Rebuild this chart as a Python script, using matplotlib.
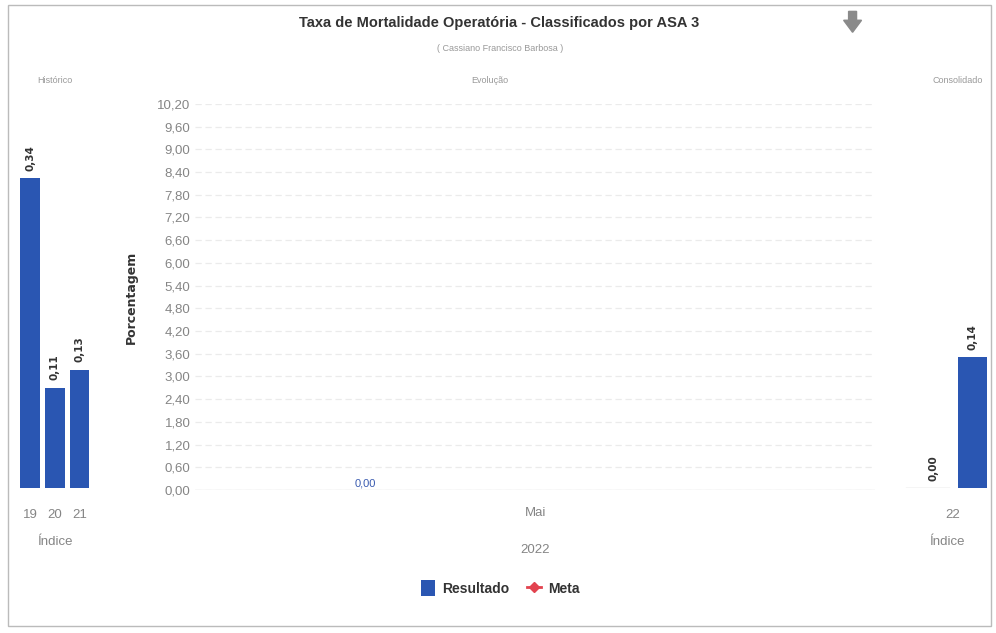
import matplotlib
matplotlib.use('Agg')
import matplotlib.pyplot as plt
from matplotlib.patches import Patch, Rectangle, Polygon
from matplotlib.lines import Line2D

# dados
historico_anos = ['19', '20', '21']
historico_valores = [0.34, 0.11, 0.13]

evolucao_meses = ['Mai']
evolucao_resultado = [0.00]
evolucao_ticks = [0.0, 0.6, 1.2, 1.8, 2.4, 3.0, 3.6, 4.2, 4.8, 5.4, 6.0, 6.6, 7.2, 7.8, 8.4, 9.0, 9.6, 10.2]

consolidado_ano = ['22']
consolidado_valores = [0.00, 0.14]

AZUL = '#2a56b2'
VERMELHO = '#e2434f'
CINZA = '#858585'
FONTE = ['Liberation Sans Narrow', 'Liberation Sans', 'DejaVu Sans']

plt.rcParams['font.family'] = FONTE


def fmt(v):
    return f"{v:.2f}".replace('.', ',')


def limpar(ax):
    for s in ax.spines.values():
        s.set_visible(False)
    ax.tick_params(length=0, colors=CINZA, labelsize=9.5)


fig = plt.figure(figsize=(9.96, 6.33), dpi=100)

# moldura
fig.add_artist(Rectangle((0.008, 0.011), 0.987, 0.981, transform=fig.transFigure,
                         fill=False, edgecolor='#bbbbbb', lw=1))

fig.text(0.501, 0.963, 'Taxa de Mortalidade Operatória - Classificados por ASA 3',
         ha='center', va='center', fontsize=10.5, fontweight='bold', color='#333333')
fig.text(0.502, 0.924, '( Cassiano Francisco Barbosa )', ha='center', va='center',
         fontsize=6.5, color='#999999')

# icone seta
cx, cy = 0.856, 0.966
seta = [(cx - 0.004, cy + 0.016), (cx + 0.004, cy + 0.016), (cx + 0.004, cy + 0.002),
        (cx + 0.009, cy + 0.002), (cx, cy - 0.017), (cx - 0.009, cy + 0.002),
        (cx - 0.004, cy + 0.002)]
fig.add_artist(Polygon(seta, closed=True, transform=fig.transFigure, color='#8a8a8a'))

# historico
ax1 = fig.add_axes([0.0155, 0.229, 0.079, 0.597])
ax1.bar(range(len(historico_anos)), historico_valores, width=0.8, color=AZUL)
for i, v in enumerate(historico_valores):
    ax1.text(i, v + 0.008, fmt(v), rotation=90, ha='center', va='bottom',
             fontsize=7.5, fontweight='bold', color='#333333', family='DejaVu Sans')
ax1.set_xlim(-0.6, 2.6)
ax1.set_ylim(0, 0.4146)
ax1.set_xticks(range(len(historico_anos)))
ax1.set_xticklabels(historico_anos)
ax1.set_yticks([])
ax1.set_xlabel('Índice', color=CINZA, fontsize=9.5, labelpad=11)
limpar(ax1)
ax1.tick_params(axis='x', pad=15)
fig.text(0.055, 0.873, 'Histórico', ha='center', va='center', fontsize=6.5, color='#999999')

# evolucao
ax2 = fig.add_axes([0.196, 0.226, 0.683, 0.610])
ax2.bar([i - 0.25 for i in range(len(evolucao_meses))], evolucao_resultado, width=0.3, color=AZUL)
for i, v in enumerate(evolucao_resultado):
    ax2.text(i - 0.25, v + 0.05, fmt(v), ha='center', va='bottom', fontsize=8, color='#3a5bb0')
ax2.set_xlim(-0.5, 0.5)
ax2.set_ylim(0, 10.2)
ax2.set_yticks(evolucao_ticks)
ax2.set_yticklabels([fmt(t) for t in evolucao_ticks])
ax2.set_xticks(range(len(evolucao_meses)))
ax2.set_xticklabels(evolucao_meses)
ax2.set_xlabel('2022', color=CINZA, fontsize=9.5, labelpad=18)
ax2.set_ylabel('Porcentagem', fontsize=9, fontweight='bold', color='#333333',
               labelpad=14, family='DejaVu Sans')
ax2.yaxis.grid(True, color='#ebebeb', linestyle=(0, (5, 3)), lw=0.9)
ax2.set_axisbelow(True)
limpar(ax2)
ax2.tick_params(axis='x', pad=12)
ax2.axhline(0, color='#e4e4e4', lw=1)
fig.text(0.492, 0.873, 'Evolução', ha='center', va='center', fontsize=6.5, color='#999999')

# consolidado
ax3 = fig.add_axes([0.908, 0.229, 0.086, 0.597])
pos = [-0.5, 0.5]
ax3.bar(pos, consolidado_valores, width=0.72, color=AZUL)
for p, v in zip(pos, consolidado_valores):
    ax3.text(p, v + 0.008, fmt(v), rotation=90, ha='center', va='bottom',
             fontsize=7.5, fontweight='bold', color='#333333', family='DejaVu Sans')
ax3.set_xlim(-1.25, 0.95)
ax3.set_ylim(0, 0.404)
ax3.set_xticks(range(len(consolidado_ano)))
ax3.set_xticklabels(consolidado_ano)
ax3.set_yticks([])
ax3.set_xlabel('Índice', color=CINZA, fontsize=9.5, labelpad=11)
limpar(ax3)
ax3.tick_params(axis='x', pad=15)
ax3.plot([-1.2, -0.1], [0, 0], color='#d0d0d0', lw=1)
fig.text(0.962, 0.873, 'Consolidado', ha='center', va='center', fontsize=6.5, color='#999999')

# legenda
handles = [Patch(facecolor=AZUL, label='Resultado'),
           Line2D([0], [0], color=VERMELHO, marker='D', markersize=5, lw=2, label='Meta')]
leg = fig.legend(handles=handles, loc='center', bbox_to_anchor=(0.502, 0.071), ncol=2,
                 frameon=False, fontsize=10, handlelength=1.0, handleheight=1.3,
                 handletextpad=0.5, columnspacing=1.3)
for t in leg.get_texts():
    t.set_fontweight('bold')
    t.set_color('#333333')

fig.savefig('out.png', dpi=100)
